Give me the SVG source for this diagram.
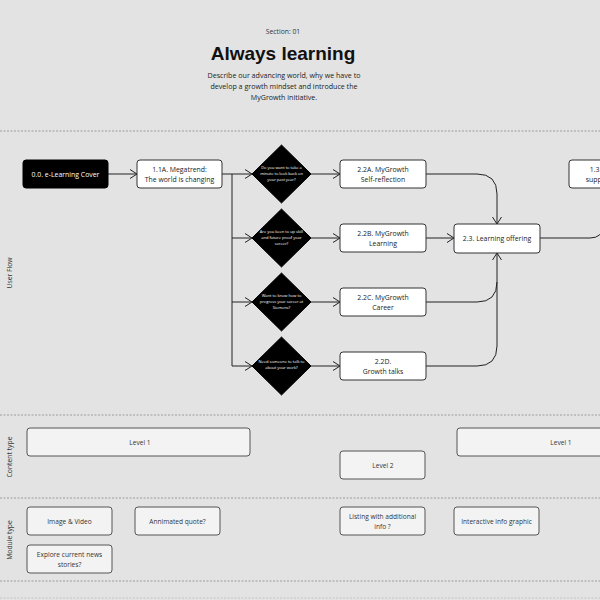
<svg xmlns="http://www.w3.org/2000/svg" width="600" height="600" viewBox="0 0 600 600">
<defs>
<marker id="arr" viewBox="0 0 8 10" refX="7.5" refY="5" markerWidth="8" markerHeight="10" markerUnits="userSpaceOnUse" orient="auto">
<path d="M0.5,0.5 L7.5,5 L0.5,9.5" fill="none" stroke="#222" stroke-width="1"/>
</marker>
<style>
text{font-family:"Open Sans","Noto Sans",sans-serif;}
.bg{fill:#e3e3e3;}
.node{fill:#fff;stroke:#333;stroke-width:1;}
.dark{fill:#000;stroke:#000;}
.ct{fill:#f3f3f3;stroke:#555;stroke-width:1;}
.t{font-size:6.9px;fill:#222;text-anchor:middle;}
.tw{font-size:6.9px;fill:#fff;text-anchor:middle;}
.dt{font-size:4px;fill:#fff;text-anchor:middle;}
.ct-t{font-size:6.6px;fill:#333;text-anchor:middle;}
.lane{font-size:6.8px;fill:#333;text-anchor:middle;}
.sep{stroke:#8a8a8a;stroke-width:0.8;stroke-dasharray:2,1.5;fill:none;}
.c{fill:none;stroke:#222;stroke-width:1;}
</style>
</defs>
<rect class="bg" x="0" y="0" width="600" height="600"/>

<g id="header">
<text x="283" y="34" style="font-size:6.8px;fill:#333;text-anchor:middle;">Section: 01</text>
<text x="283" y="60" style="font-family:'Liberation Sans',Arial,sans-serif;font-size:19px;font-weight:bold;fill:#111;text-anchor:middle;">Always learning</text>
<text x="284" y="78" style="font-size:7.1px;fill:#222;text-anchor:middle;">Describe our advancing world, why we have to</text>
<text x="284" y="89" style="font-size:7.1px;fill:#222;text-anchor:middle;">develop a growth mindset and introduce the</text>
<text x="284" y="100" style="font-size:7.1px;fill:#222;text-anchor:middle;">MyGrowth initiative.</text>
</g>

<g id="separators">
<line class="sep" x1="0" y1="131" x2="600" y2="131"/>
<line class="sep" x1="0" y1="415" x2="600" y2="415"/>
<line class="sep" x1="0" y1="498" x2="600" y2="498"/>
<line class="sep" x1="0" y1="581" x2="600" y2="581"/>
<line class="sep" x1="0" y1="598" x2="600" y2="598" style="stroke:#bbb;"/>
</g>

<g id="lanes">
<text class="lane" transform="translate(12,273) rotate(-90)">User Flow</text>
<text class="lane" transform="translate(12,457) rotate(-90)">Content type</text>
<text class="lane" transform="translate(12,540) rotate(-90)">Module type</text>
</g>

<g id="connectors">
<path class="c" d="M108,174 H137" marker-end="url(#arr)"/>
<path class="c" d="M222,174 H232 V366"/>
<path class="c" d="M232,174 H252" marker-end="url(#arr)"/>
<path class="c" d="M232,238 H252" marker-end="url(#arr)"/>
<path class="c" d="M232,302 H252" marker-end="url(#arr)"/>
<path class="c" d="M232,366 H252" marker-end="url(#arr)"/>
<path class="c" d="M311,174 H340" marker-end="url(#arr)"/>
<path class="c" d="M311,238 H340" marker-end="url(#arr)"/>
<path class="c" d="M311,302 H340" marker-end="url(#arr)"/>
<path class="c" d="M311,366 H340" marker-end="url(#arr)"/>
<path class="c" d="M426,174 H477 Q497,174 497,194 V224" marker-end="url(#arr)"/>
<path class="c" d="M426,238 H454" marker-end="url(#arr)"/>
<path class="c" d="M426,302 H477 Q497,302 497,282 V253" marker-end="url(#arr)"/>
<path class="c" d="M426,366 H477 Q497,366 497,346 V282"/>
<path class="c" d="M540,238 H590 Q602,238 604,226"/>
</g>

<g id="n-cover">
<rect class="dark" x="23" y="160" width="85" height="28" rx="3"/>
<text class="tw" x="65.5" y="176.5">0.0. e-Learning Cover</text>
</g>
<g id="n-11a">
<rect class="node" x="137" y="160" width="85" height="28" rx="3"/>
<text class="t" x="179.5" y="171.5">1.1A. Megatrend:</text>
<text class="t" x="179.5" y="181.5">The world is changing</text>
</g>

<g id="d1">
<polygon class="dark" points="281.5,145 311,174 281.5,203 252,174"/>
<text class="dt" x="281.5" y="168.5">Do you want to take a</text>
<text class="dt" x="281.5" y="174.5">minute to look back on</text>
<text class="dt" x="281.5" y="180.5">your past year?</text>
</g>
<g id="d2">
<polygon class="dark" points="281.5,209 311,238 281.5,267 252,238"/>
<text class="dt" x="281.5" y="232.5">Are you  keen to up skill</text>
<text class="dt" x="281.5" y="238.5">and future proof your</text>
<text class="dt" x="281.5" y="244.5">career?</text>
</g>
<g id="d3">
<polygon class="dark" points="281.5,273 311,302 281.5,331 252,302"/>
<text class="dt" x="281.5" y="296.5">Want to know how to</text>
<text class="dt" x="281.5" y="302.5">progress your career at</text>
<text class="dt" x="281.5" y="308.5">Siemens?</text>
</g>
<g id="d4">
<polygon class="dark" points="281.5,337 311,366 281.5,395 252,366"/>
<text class="dt" x="281.5" y="363">Need someone to talk to</text>
<text class="dt" x="281.5" y="369">about your work?</text>
</g>

<g id="n-22a">
<rect class="node" x="340" y="160" width="86" height="28" rx="3"/>
<text class="t" x="383" y="171.5">2.2A. MyGrowth</text>
<text class="t" x="383" y="181.5">Self-reflection</text>
</g>
<g id="n-22b">
<rect class="node" x="340" y="224" width="86" height="28" rx="3"/>
<text class="t" x="383" y="235.5">2.2B. MyGrowth</text>
<text class="t" x="383" y="245.5">Learning</text>
</g>
<g id="n-22c">
<rect class="node" x="340" y="288" width="86" height="28" rx="3"/>
<text class="t" x="383" y="299.5">2.2C. MyGrowth</text>
<text class="t" x="383" y="309.5">Career</text>
</g>
<g id="n-22d">
<rect class="node" x="340" y="352" width="86" height="28" rx="3"/>
<text class="t" x="383" y="363.5">2.2D.</text>
<text class="t" x="383" y="373.5">Growth talks</text>
</g>
<g id="n-23">
<rect class="node" x="454" y="224" width="86" height="29" rx="3"/>
<text class="t" x="497" y="241">2.3. Learning offering</text>
</g>
<g id="n-13">
<rect class="node" x="569" y="160" width="86" height="28" rx="3"/>
<text class="t" x="612" y="171.5">1.3. Individual</text>
<text class="t" x="612" y="181.5">support offering</text>
</g>

<g id="c-level1a">
<rect class="ct" x="27" y="428" width="223" height="28" rx="3"/>
<text class="ct-t" x="140" y="444.5">Level 1</text>
</g>
<g id="c-level2">
<rect class="ct" x="340" y="451" width="85" height="28" rx="3"/>
<text class="ct-t" x="383" y="467.5">Level 2</text>
</g>
<g id="c-level1b">
<rect class="ct" x="457" y="428" width="208" height="28" rx="3"/>
<text class="ct-t" x="561" y="444.5">Level 1</text>
</g>

<g id="m-image">
<rect class="ct" x="27" y="507" width="85" height="28" rx="3"/>
<text class="ct-t" x="69.5" y="523.5">Image &amp; Video</text>
</g>
<g id="m-quote">
<rect class="ct" x="135" y="507" width="85" height="28" rx="3"/>
<text class="ct-t" x="177.5" y="523.5">Annimated quote?</text>
</g>
<g id="m-news">
<rect class="ct" x="27" y="545" width="85" height="28" rx="3"/>
<text class="ct-t" x="69.5" y="556.5">Explore current news</text>
<text class="ct-t" x="69.5" y="566.5">stories?</text>
</g>
<g id="m-listing">
<rect class="ct" x="340" y="507" width="85" height="28" rx="3"/>
<text class="ct-t" x="382.5" y="518.5">Listing with additional</text>
<text class="ct-t" x="382.5" y="528.5">info ?</text>
</g>
<g id="m-interactive">
<rect class="ct" x="454" y="507" width="85" height="28" rx="3"/>
<text class="ct-t" x="496.5" y="523.5">Interactive info graphic</text>
</g>
</svg>
